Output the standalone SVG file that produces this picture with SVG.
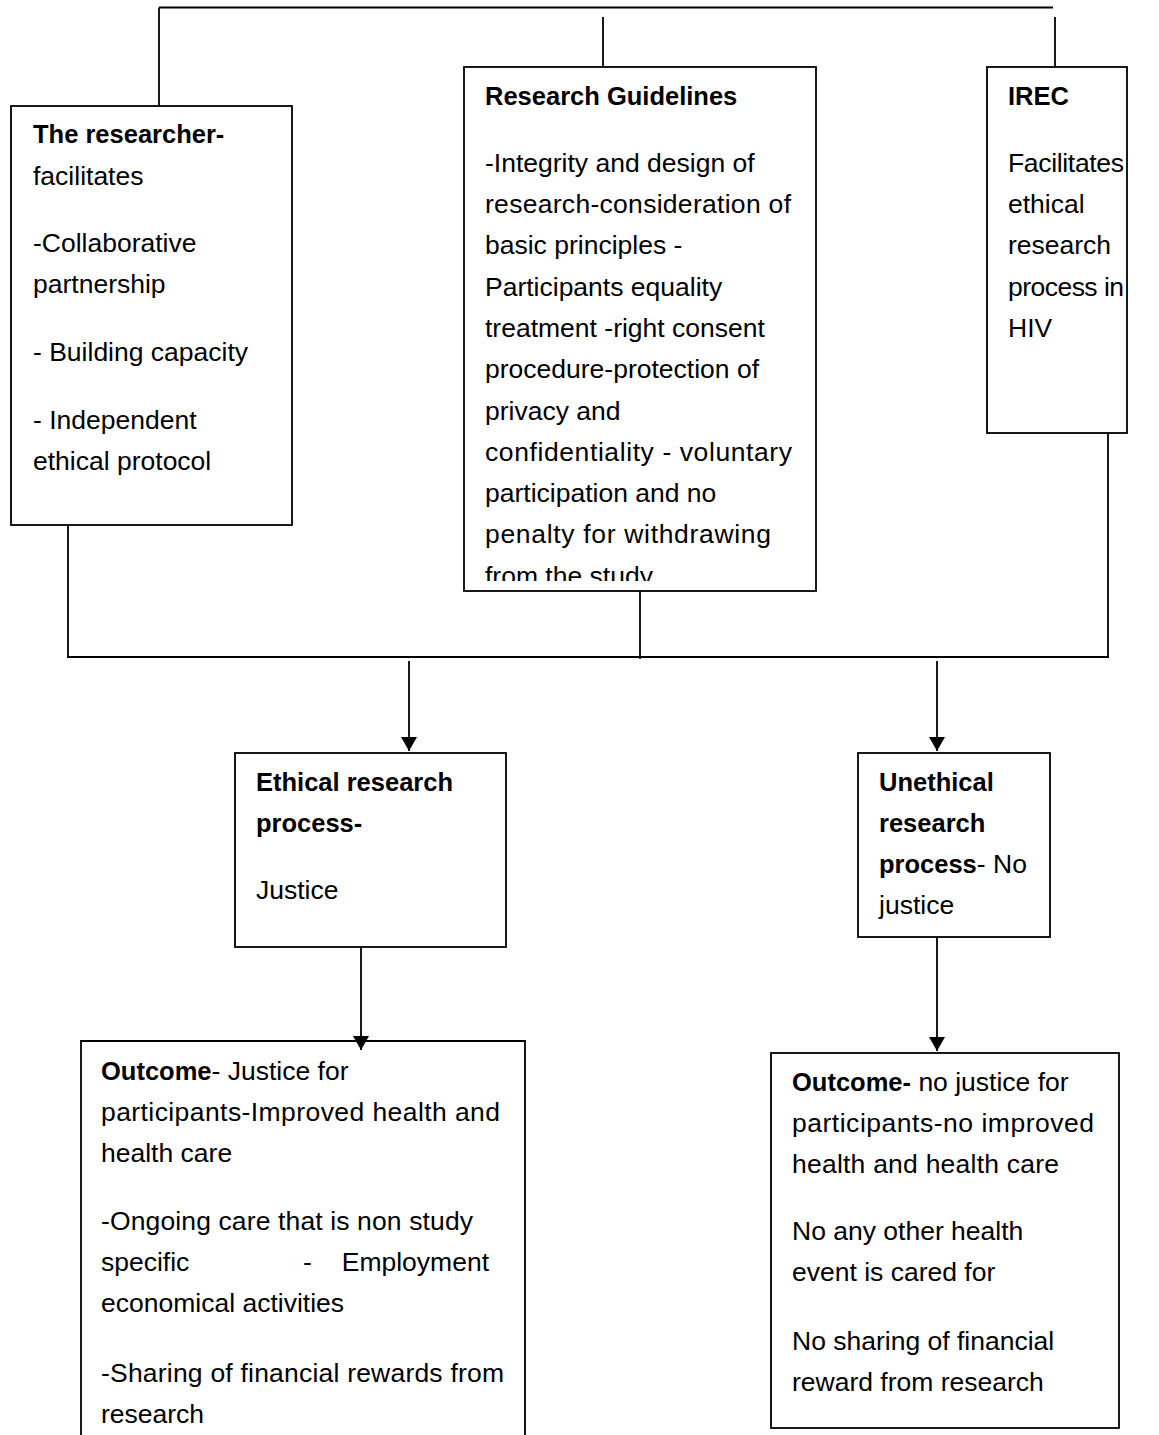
<svg xmlns="http://www.w3.org/2000/svg" width="1159" height="1435" viewBox="0 0 1159 1435">
<style>
.box{fill:#fff;stroke:#000;stroke-width:1.8}
.ln{fill:none;stroke:#000;stroke-width:1.8}
text{font-family:"Liberation Sans",Arial,sans-serif;font-size:26.5px;fill:#000}
.b{font-weight:bold;font-size:25.5px}
</style>
<defs>
<marker id="ah" viewBox="0 0 14 16" refX="14" refY="8" markerWidth="14" markerHeight="16" markerUnits="userSpaceOnUse" orient="auto">
<path d="M0,0 L14,8 L0,16 Z" fill="#000"/>
</marker>
<clipPath id="gclip"><rect x="464" y="67" width="352" height="514"/></clipPath>
</defs>
<rect width="1159" height="1435" fill="#fff"/>
<g id="researcher">
<rect class="box" x="11" y="106" width="281" height="419"/>
<text x="33" y="143" class="b">The researcher-</text>
<text x="33" y="185">facilitates</text>
<text x="33" y="252">-Collaborative</text>
<text x="33" y="293">partnership</text>
<text x="33" y="361">- Building capacity</text>
<text x="33" y="429">- Independent</text>
<text x="33" y="470">ethical protocol</text>
</g>
<g id="guidelines">
<rect class="box" x="464" y="67" width="352" height="524"/>
<g clip-path="url(#gclip)">
<text x="485" y="105" class="b">Research Guidelines</text>
<text x="485" y="172">-Integrity and design of</text>
<text x="485" y="213" textLength="306">research-consideration of</text>
<text x="485" y="254">basic principles -</text>
<text x="485" y="296">Participants equality</text>
<text x="485" y="337">treatment -right consent</text>
<text x="485" y="378">procedure-protection of</text>
<text x="485" y="420">privacy and</text>
<text x="485" y="461" textLength="307">confidentiality - voluntary</text>
<text x="485" y="502">participation and no</text>
<text x="485" y="543" textLength="286">penalty for withdrawing</text>
<text x="485" y="585">from the study</text>
</g>
</g>
<g id="irec">
<rect class="box" x="987" y="67" width="140" height="366"/>
<text x="1008" y="105" class="b">IREC</text>
<text x="1008" y="172" textLength="116">Facilitates</text>
<text x="1008" y="213">ethical</text>
<text x="1008" y="254">research</text>
<text x="1008" y="296" textLength="116">process in</text>
<text x="1008" y="337">HIV</text>
</g>
<g id="ethical">
<rect class="box" x="235" y="753" width="271" height="194"/>
<text x="256" y="791" class="b">Ethical research</text>
<text x="256" y="832" class="b">process-</text>
<text x="256" y="899">Justice</text>
</g>
<g id="unethical">
<rect class="box" x="858" y="753" width="192" height="184"/>
<text x="879" y="791" class="b">Unethical</text>
<text x="879" y="832" class="b">research</text>
<text x="879" y="873"><tspan class="b">process</tspan>- No</text>
<text x="879" y="914">justice</text>
</g>
<g id="outcome-justice">
<path class="box" d="M81,1440 V1041 H525 V1440"/>
<text x="101" y="1080"><tspan class="b">Outcome</tspan>- Justice for</text>
<text x="101" y="1121" textLength="399">participants-Improved health and</text>
<text x="101" y="1162">health care</text>
<text x="101" y="1230" textLength="372">-Ongoing care that is non study</text>
<text x="101" y="1271">specific</text>
<text x="303" y="1271">-</text>
<text x="489" y="1271" text-anchor="end">Employment</text>
<text x="101" y="1312">economical activities</text>
<text x="101" y="1382" textLength="403">-Sharing of financial rewards from</text>
<text x="101" y="1423">research</text>
</g>
<g id="outcome-nojustice">
<rect class="box" x="771" y="1053" width="348" height="375"/>
<text x="792" y="1091"><tspan class="b">Outcome-</tspan> no justice for</text>
<text x="792" y="1132" textLength="302">participants-no improved</text>
<text x="792" y="1173" textLength="267">health and health care</text>
<text x="792" y="1240">No any other health</text>
<text x="792" y="1281">event is cared for</text>
<text x="792" y="1350">No sharing of financial</text>
<text x="792" y="1391">reward from research</text>
</g>
<g id="connectors">
<path class="ln" d="M159,7.5 H1053"/>
<path class="ln" d="M159,7.5 V106"/>
<path class="ln" d="M603,17 V67"/>
<path class="ln" d="M1055,17 V67"/>
<path class="ln" d="M68,525 V657"/>
<path class="ln" d="M640,591 V659"/>
<path class="ln" d="M1108,433 V657"/>
<path class="ln" d="M67,657 H1109"/>
<line class="ln" x1="409" y1="661" x2="409" y2="751" marker-end="url(#ah)"/>
<line class="ln" x1="937" y1="661" x2="937" y2="751" marker-end="url(#ah)"/>
<line class="ln" x1="361" y1="947" x2="361" y2="1050" marker-end="url(#ah)"/>
<line class="ln" x1="937" y1="937" x2="937" y2="1051" marker-end="url(#ah)"/>
</g>
</svg>
